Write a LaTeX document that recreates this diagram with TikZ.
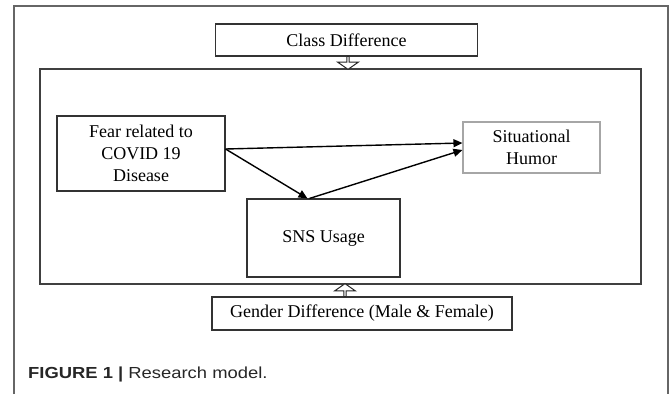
\documentclass[tikz,border=0pt]{standalone}
\usepackage{fontspec}
\setmainfont{Liberation Serif}
\setsansfont{Liberation Sans}
\newfontfamily\capfont[FakeStretch=1.15]{Liberation Sans}
\usetikzlibrary{arrows.meta,shapes.arrows}

\begin{document}
\begin{tikzpicture}[
    x=1pt, y=-1pt,
    box/.style={rectangle, draw=black!80, line width=1.1pt, align=center, inner sep=2pt, font=\fontsize{18}{22}\selectfont},
    lightbox/.style={box, draw=black!35},
    frame/.style={rectangle, draw=black!75, line width=1.1pt},
    arr/.style={-{Triangle[length=9pt, width=8pt]}, line width=1.4pt},
    hollow/.style={single arrow, draw=black!85, line width=1pt, fill=white, minimum height=13pt, minimum width=21pt, single arrow head extend=4.5pt, single arrow tip angle=110, inner sep=0pt, outer sep=0pt}
]
    \useasboundingbox (0,0) rectangle (669,394);

    % Outer border, open at the bottom
    \draw[black!60, line width=1.2pt] (14,394) -- (14,6) -- (668,6) -- (668,394);

    % Nodes using absolute coordinates for reliability
    \node[frame, minimum width=601pt, minimum height=215pt] (model) at (340.5,176.5) {};
    \node[box, minimum width=262pt, minimum height=32pt] (class) at (346.5,40) {Class Difference};
    \node[box, minimum width=168pt, minimum height=75pt] (fear) at (141,153.5) {Fear related to\\COVID 19\\Disease};
    \node[lightbox, minimum width=137pt, minimum height=51pt] (humor) at (531.5,147.5) {Situational\\Humor};
    \node[box, minimum width=153pt, minimum height=78pt] (sns) at (323.5,238) {SNS Usage};
    \node[box, minimum width=300pt, minimum height=33pt] (gender) at (362,313.5) {Gender Difference (Male \& Female)};

    % Moderators
    \node[hollow, rotate=-90] (clsarr) at (348,62.5) {};
    \node[hollow, rotate=90] (genarr) at (345,290.5) {};

    % Paths
    \draw[arr] ([yshift=4.5pt]fear.east) -- ([yshift=4.5pt]humor.west);
    \draw[arr] ([yshift=4.5pt]fear.east) -- ([xshift=-16pt]sns.north);
    \draw[arr] ([xshift=-14pt]sns.north) -- ([yshift=-2.5pt]humor.west);

    % Caption
    \node[anchor=west, inner sep=0pt, text=black!85, font=\capfont\fontsize{16}{18}\selectfont] (caption) at (28,374) {\textbf{FIGURE 1 |} Research model.};
\end{tikzpicture}
\end{document}
